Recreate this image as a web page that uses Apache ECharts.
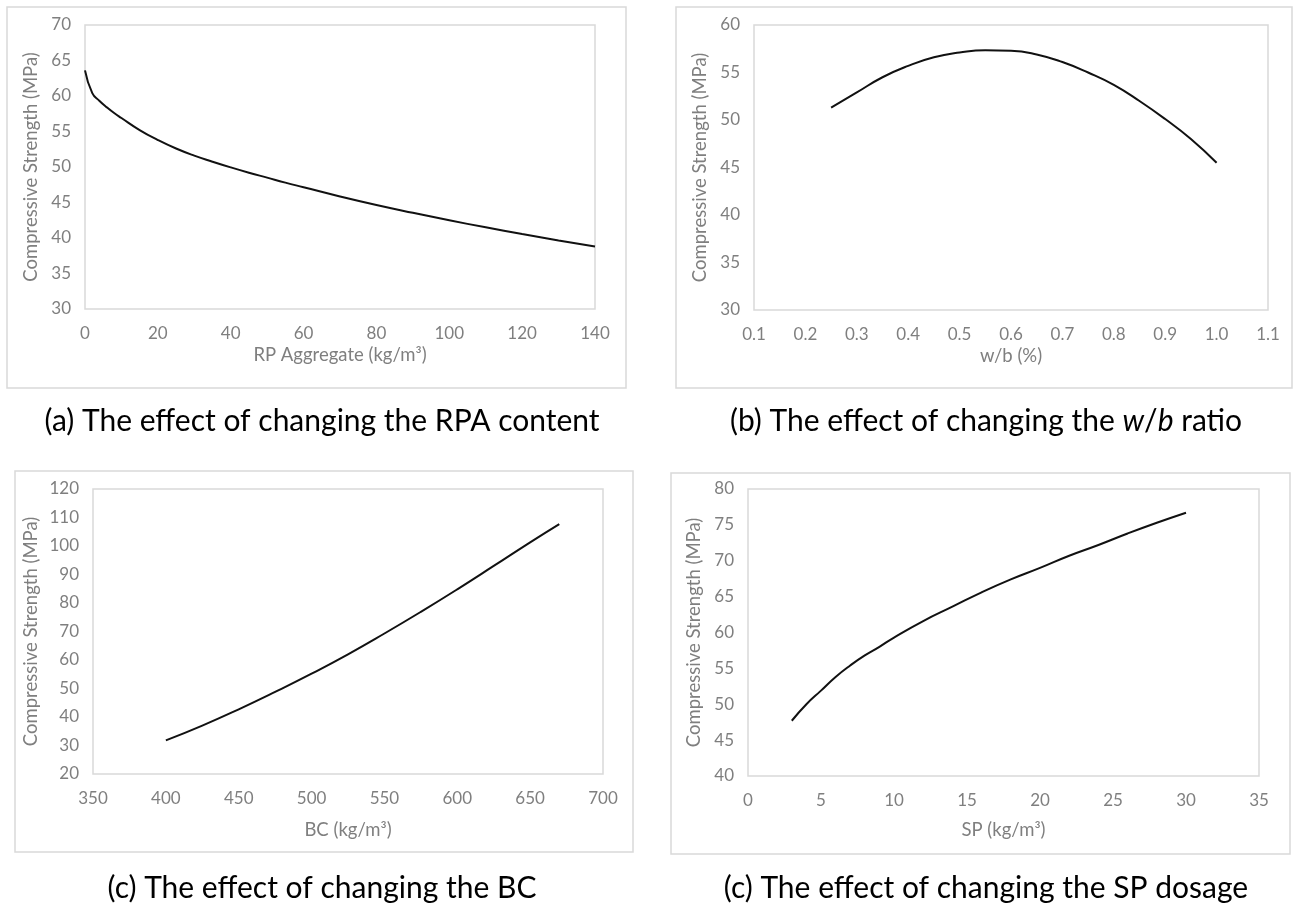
<!DOCTYPE html>
<html>
<head>
<meta charset="utf-8">
<title>Compressive strength sensitivity</title>
<script src="https://cdn.jsdelivr.net/npm/echarts@6/dist/echarts.min.js"></script>
<style>
  html, body { margin: 0; padding: 0; background: #fff; }
  #chart { width: 1296px; height: 908px; }
</style>
</head>
<body>
<div id="chart"></div>
<script>
// (a) RP aggregate content (kg/m3) vs compressive strength (MPa)
const rpaContent = [0, 2, 4, 6, 8, 10, 15, 20, 25, 30, 35, 40, 45, 50, 55, 60, 70, 80, 90, 100, 110, 120, 130, 140];
const rpaStrength = [63.6, 60.4, 59.3, 58.4, 57.6, 56.9, 55.2, 53.8, 52.6, 51.6, 50.75, 49.95, 49.2, 48.5, 47.8, 47.15, 45.85, 44.65, 43.55, 42.5, 41.5, 40.55, 39.65, 38.8];

// (b) water/binder ratio vs compressive strength
const wbRatio = [0.25, 0.30, 0.35, 0.40, 0.45, 0.50, 0.55, 0.60, 0.65, 0.70, 0.75, 0.80, 0.85, 0.90, 0.95, 1.00];
const wbStrength = [51.3, 52.9, 54.5, 55.7, 56.6, 57.1, 57.35, 57.3, 56.9, 56.1, 55.0, 53.7, 52.0, 50.1, 48.0, 45.5];

// (c) binder content (kg/m3) vs compressive strength
const bcContent = [400, 425, 450, 475, 500, 525, 550, 575, 600, 625, 650, 670];
const bcStrength = [31.8, 37.0, 42.7, 48.8, 55.2, 62.0, 69.3, 76.9, 84.8, 93.0, 101.3, 107.7];

// (d) superplasticizer dosage (kg/m3) vs compressive strength
const spDosage = [3, 4, 5, 6, 7, 8, 9, 10, 12, 14, 16, 18, 20, 22, 24, 26, 28, 30];
const spStrength = [47.7, 50.0, 51.9, 53.8, 55.4, 56.8, 58.0, 59.3, 61.6, 63.6, 65.6, 67.4, 69.0, 70.7, 72.2, 73.8, 75.3, 76.7];

// axis titles and captions
const yTitle = 'Compressive Strength (MPa)';
const xTitles = ['RP Aggregate (kg/m\u00b3)', 'w/b (%)', 'BC (kg/m\u00b3)', 'SP (kg/m\u00b3)'];
const captions = [
  '{n|(a) The effect of changing the RPA content}',
  '{n|(b) The effect of changing the }{i|w}{n|/}{i|b}{n| ratio}',
  '{n|(c) The effect of changing the BC}',
  '{n|(c) The effect of changing the SP dosage}'
];

const FONT = 'Lato, "Open Sans", sans-serif';
const GREY = '#7f7f7f';
const FRAME = '#d9d9d9';
const TICK_SIZE = 17;
const NAME_SIZE = 18.5;
const CAP_SIZE = 30;

const grids = [
  { left: 85, top: 25, width: 510, height: 284 },
  { left: 754, top: 25, width: 514, height: 285 },
  { left: 93, top: 489, width: 510, height: 285 },
  { left: 748, top: 489, width: 511, height: 287 }
].map(g => Object.assign({ show: true, borderColor: FRAME, borderWidth: 1.5, containLabel: false }, g));

const xRanges = [
  { min: 0, max: 140, interval: 20, gap: 37, fmt: v => String(v) },
  { min: 0.1, max: 1.1, interval: 0.1, gap: 37, fmt: v => v.toFixed(1) },
  { min: 350, max: 700, interval: 50, gap: 47, fmt: v => String(v) },
  { min: 0, max: 35, interval: 5, gap: 45, fmt: v => String(v) }
];
const yRanges = [
  { min: 30, max: 70, interval: 5, gap: 44 },
  { min: 30, max: 60, interval: 5, gap: 44 },
  { min: 20, max: 120, interval: 10, gap: 52 },
  { min: 40, max: 80, interval: 5, gap: 44 }
];

const xAxis = xRanges.map((r, i) => ({
  type: 'value', gridIndex: i, min: r.min, max: r.max, interval: r.interval,
  name: xTitles[i], nameLocation: 'middle', nameGap: r.gap,
  nameTextStyle: { color: GREY, fontSize: NAME_SIZE, fontFamily: FONT },
  axisLine: { show: false }, axisTick: { show: false }, splitLine: { show: false },
  axisLabel: { color: GREY, fontSize: TICK_SIZE, fontFamily: FONT, margin: 16, formatter: r.fmt }
}));

const yAxis = yRanges.map((r, i) => ({
  type: 'value', gridIndex: i, min: r.min, max: r.max, interval: r.interval,
  name: yTitle, nameLocation: 'middle', nameGap: r.gap, nameRotate: 90,
  nameTextStyle: { color: GREY, fontSize: NAME_SIZE, fontFamily: FONT },
  axisLine: { show: false }, axisTick: { show: false }, splitLine: { show: false },
  axisLabel: { color: GREY, fontSize: TICK_SIZE, fontFamily: FONT, margin: 14 }
}));

const pairs = (xs, ys) => xs.map((x, k) => [x, ys[k]]);
const seriesData = [
  pairs(rpaContent, rpaStrength),
  pairs(wbRatio, wbStrength),
  pairs(bcContent, bcStrength),
  pairs(spDosage, spStrength)
];
const series = seriesData.map((d, i) => ({
  type: 'line', xAxisIndex: i, yAxisIndex: i, data: d,
  showSymbol: false, smooth: true,
  lineStyle: { color: '#111', width: 2 }, silent: true
}));

// outer chart-area frames
const frames = [
  { x: 7, y: 7, w: 619, h: 381 },
  { x: 676, y: 7, w: 616, h: 381 },
  { x: 15, y: 471, w: 618, h: 381 },
  { x: 671, y: 473, w: 619, h: 381 }
].map(f => ({
  type: 'rect', silent: true, z: -1,
  shape: { x: f.x, y: f.y, width: f.w, height: f.h },
  style: { fill: 'none', stroke: FRAME, lineWidth: 1.5 }
}));

const capPos = [[322, 421], [986, 421], [322, 888], [986, 888]];
const captionTexts = captions.map((t, i) => ({
  type: 'text', silent: true,
  x: capPos[i][0], y: capPos[i][1],
  style: {
    text: t, align: 'center', verticalAlign: 'middle',
    textAlign: 'center', textVerticalAlign: 'middle',
    rich: {
      n: { fontSize: CAP_SIZE, fontFamily: FONT, color: '#000', fill: '#000' },
      i: { fontSize: CAP_SIZE, fontFamily: FONT, fontStyle: 'italic', color: '#000', fill: '#000' }
    }
  }
}));

const chart = echarts.init(document.getElementById('chart'), null, { renderer: 'canvas' });
chart.setOption({
  animation: false,
  backgroundColor: '#fff',
  grid: grids,
  xAxis: xAxis,
  yAxis: yAxis,
  series: series,
  graphic: frames.concat(captionTexts)
});
</script>
</body>
</html>
